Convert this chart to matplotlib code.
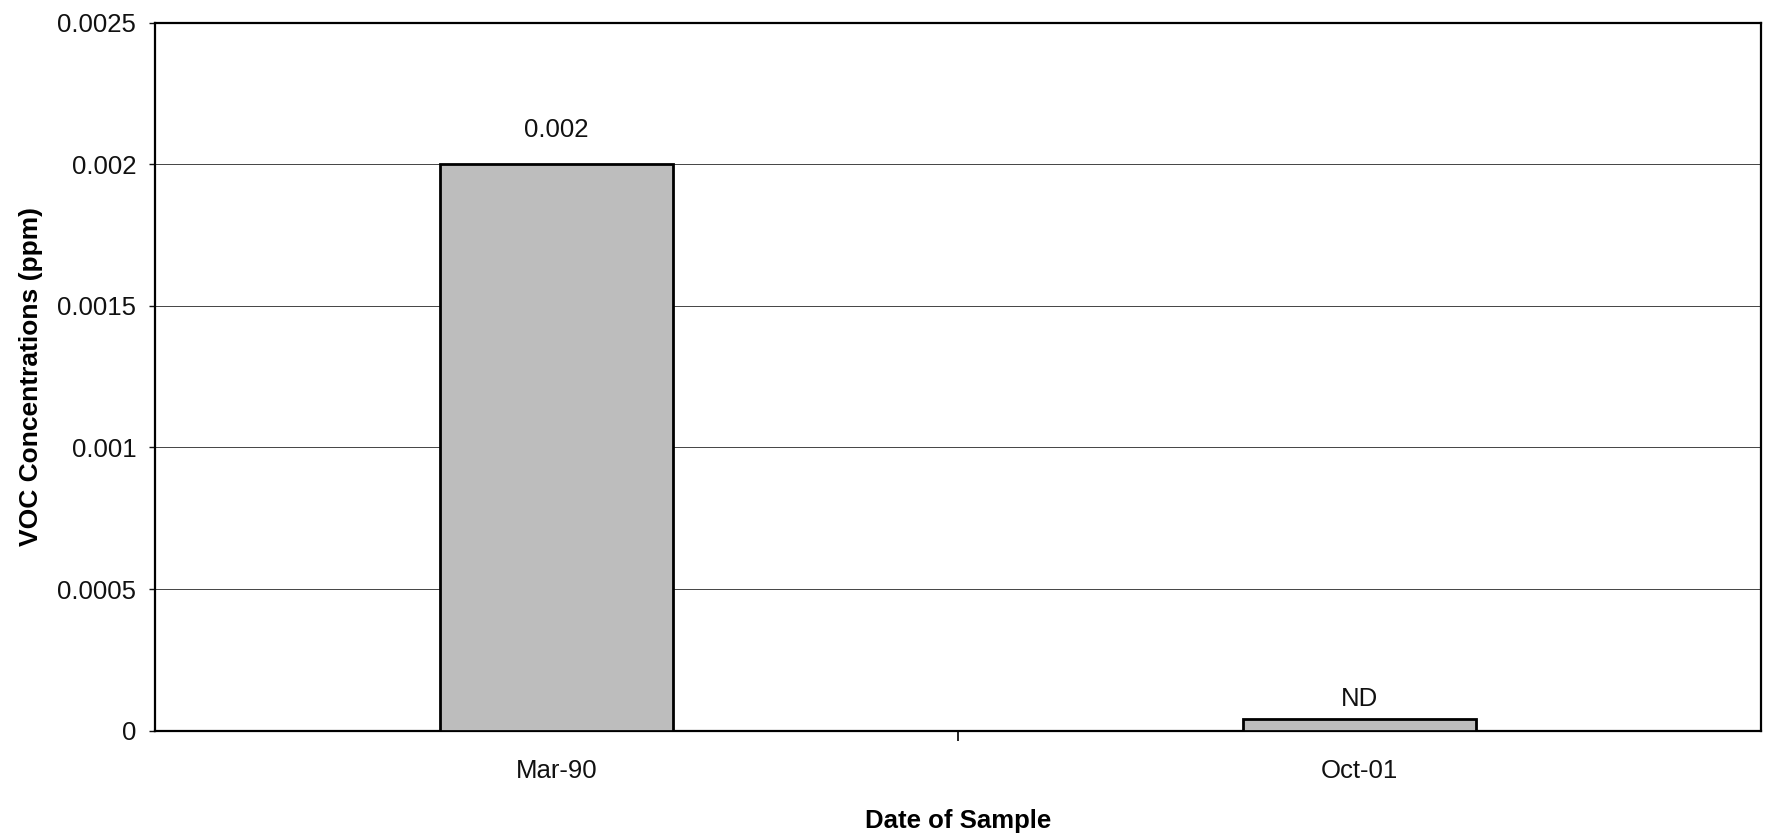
import matplotlib
matplotlib.use('Agg')
import matplotlib.pyplot as plt
import matplotlib.ticker as ticker

plt.rcParams['font.family'] = ['Liberation Sans', 'DejaVu Sans']

# data
dates = ['Mar-90', 'Oct-01']
conc = [0.002, 0.000043]          # ND drawn as a small placeholder bar
bar_labels = ['0.002', 'ND']
y_ticks = [0, 0.0005, 0.001, 0.0015, 0.002, 0.0025]

fig = plt.figure(figsize=(17.67, 8.38), dpi=100)
ax = fig.add_axes([0.0877, 0.128, 0.909, 0.845])

x_pos = range(len(dates))
bars = ax.bar(x_pos, conc, width=0.29, color='#bdbdbd', edgecolor='black', linewidth=2, zorder=3)

# label gaps above bar tops, as they sit in the scan
label_gaps = [0.00008, 0.000028]
for bar, lab, gap in zip(bars, bar_labels, label_gaps):
    ax.text(bar.get_x() + bar.get_width() / 2, bar.get_height() + gap, lab,
            ha='center', va='bottom', fontsize=18.5, color='#111')

ax.set_xlim(-0.5, len(dates) - 0.5)
ax.set_ylim(0, 0.0025)
ax.set_yticks(y_ticks)
ax.yaxis.set_major_formatter(ticker.FuncFormatter(lambda v, p: f'{v:g}'))
ax.yaxis.grid(True, color='#444', linewidth=0.7, zorder=0)

# category labels centred, tick marks between categories (Excel style)
ax.set_xticks(list(x_pos))
ax.set_xticklabels(dates)
ax.set_xticks([i + 0.5 for i in range(len(dates) - 1)], minor=True)
ax.tick_params(axis='x', which='major', length=0, pad=20, labelsize=18.5, colors='#111')
ax.tick_params(axis='x', which='minor', length=7, width=1.2, direction='out')
ax.tick_params(axis='y', length=4.5, width=1.0, direction='out', labelsize=18.5, colors='#111', pad=9)

for s in ax.spines.values():
    s.set_color('black')
    s.set_linewidth(1.6)

ax.set_xlabel('Date of Sample', fontsize=18.5, fontweight='bold', labelpad=19)
ax.set_ylabel('VOC Concentrations (ppm)', fontsize=19, fontweight='bold', labelpad=10)

fig.patch.set_facecolor('white')
fig.savefig('out.png', dpi=100, facecolor='white')
